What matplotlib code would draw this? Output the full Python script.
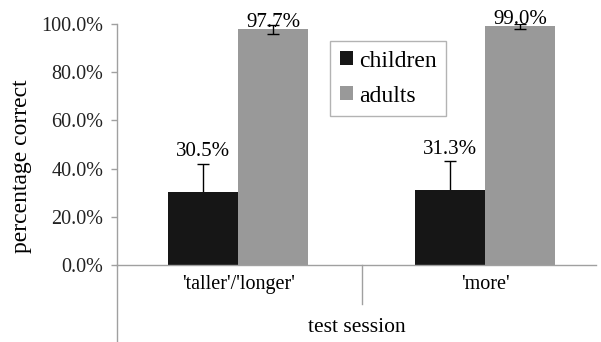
import matplotlib
matplotlib.use('Agg')
import matplotlib.pyplot as plt
import numpy as np

# values
sessions = ["'taller'/'longer'", "'more'"]
children = [30.5, 31.3]
adults = [97.7, 99.0]
children_err = [11.5, 11.8]
adults_err = [1.7, 1.0]
y_ticks = [0, 20, 40, 60, 80, 100]

plt.rcParams['font.family'] = ['Liberation Serif', 'DejaVu Serif']

fig = plt.figure(figsize=(6.01, 3.42), dpi=100)
ax = fig.add_axes([0.195, 0.225, 0.797, 0.705])

x = np.arange(len(sessions))
w = 0.283
axis_grey = '#a0a0a0'

ax.bar(x - w / 2, children, w, color='#161616', label='children', zorder=2)
ax.bar(x + w / 2, adults, w, color='#999999', label='adults', zorder=2)
# children error bars sit behind the dark bars, so only the upper half shows
ax.errorbar(x - w / 2, children, yerr=children_err, fmt='none', ecolor='black',
            elinewidth=1, capsize=4, capthick=1, zorder=1)
ax.errorbar(x + w / 2, adults, yerr=adults_err, fmt='none', ecolor='black',
            elinewidth=1, capsize=4, capthick=1, zorder=3)

for xi, v, e in zip(x - w / 2, children, children_err):
    ax.text(xi, v + e + 1.0, f'{v:.1f}%', ha='center', va='bottom', fontsize=15)
for xi, v in zip(x + w / 2, adults):
    ax.text(xi, v - 1.0, f'{v:.1f}%', ha='center', va='bottom', fontsize=15)

ax.set_xlim(-0.49, 1.45)
ax.set_ylim(0, 100)
ax.set_yticks(y_ticks)
ax.set_yticklabels([f'{t:.1f}%' for t in y_ticks], fontsize=14.5)
ax.set_ylabel('percentage correct', fontsize=17)
ax.yaxis.set_label_coords(-0.178, 0.41)
ax.set_xticks([])

for side in ['top', 'right']:
    ax.spines[side].set_visible(False)
for side in ['left', 'bottom']:
    ax.spines[side].set_color(axis_grey)
    ax.spines[side].set_linewidth(1)
ax.tick_params(axis='y', colors=axis_grey, labelcolor='#222222', length=4, width=1, pad=6)

# category labels and the second axis level below the plot
for xi, s in zip(x, sessions):
    ax.text(xi, -8, s, ha='center', va='center', fontsize=14.5, clip_on=False)
ax.plot([0.5, 0.5], [0, -16], color=axis_grey, lw=1, clip_on=False)
ax.plot([-0.49, -0.49], [0, -32], color=axis_grey, lw=1, clip_on=False)
ax.text(0.48, -26, 'test session', ha='center', va='center', fontsize=15.5, clip_on=False)

leg = ax.legend(loc='upper left', bbox_to_anchor=(0.445, 0.929), fontsize=17,
                frameon=True, fancybox=False, handlelength=0.55, handleheight=0.55,
                handletextpad=0.25, borderpad=0.4, labelspacing=0.6, borderaxespad=0)
leg.get_frame().set_edgecolor(axis_grey)
leg.get_frame().set_linewidth(1)

fig.savefig('out.png', dpi=100)
